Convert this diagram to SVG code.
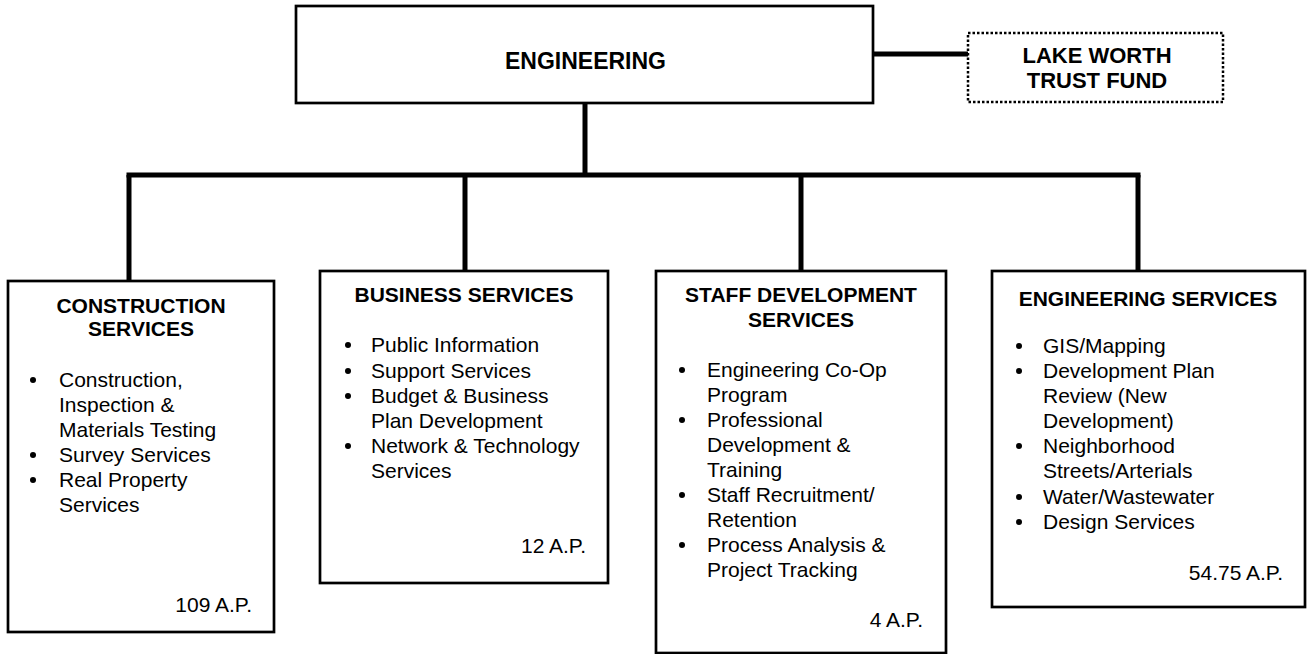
<svg xmlns="http://www.w3.org/2000/svg" width="1307" height="654" viewBox="0 0 1307 654">
<style>
.box{fill:#fff;stroke:#000;stroke-width:2.7}
.dot{fill:#fff;stroke:#000;stroke-width:2.5;stroke-dasharray:2.5 2}
.ln{stroke:#000;stroke-width:5;fill:none}
.h{font-family:"Liberation Sans",Arial,sans-serif;font-weight:bold;font-size:21px;text-anchor:middle;fill:#000}
.top{font-size:23px}
.lw{font-size:22px}
.t{font-family:"Liberation Sans",Arial,sans-serif;font-size:21px;fill:#000}
.ap{text-anchor:end}
.b{fill:#000}
</style>
<rect width="1307" height="654" fill="#fff"/>
<g id="connectors">
<line class="ln" x1="873" y1="54" x2="968" y2="54"/>
<line class="ln" x1="585" y1="103" x2="585" y2="175"/>
<line class="ln" x1="126.5" y1="175" x2="1140.5" y2="175"/>
<line class="ln" x1="129" y1="175" x2="129" y2="281"/>
<line class="ln" x1="465" y1="175" x2="465" y2="271"/>
<line class="ln" x1="801" y1="175" x2="801" y2="271"/>
<line class="ln" x1="1138" y1="175" x2="1138" y2="271"/>
</g>
<g id="engineering">
<rect class="box" x="296" y="6" width="577" height="97"/>
<text class="h top" x="585.5" y="69">ENGINEERING</text>
</g>
<g id="lake-worth">
<rect class="dot" x="968" y="33" width="255" height="69"/>
<text class="h lw" x="1097" y="63">LAKE WORTH</text>
<text class="h lw" x="1097" y="88">TRUST FUND</text>
</g>
<g id="construction">
<rect class="box" x="8" y="281" width="266" height="351"/>
<text class="h" x="141" y="313">CONSTRUCTION</text>
<text class="h" x="141" y="336">SERVICES</text>
<circle class="b" cx="33" cy="380" r="3"/>
<circle class="b" cx="33" cy="455" r="3"/>
<circle class="b" cx="33" cy="480" r="3"/>
<text class="t" x="59" y="387">Construction,</text>
<text class="t" x="59" y="412">Inspection &amp;</text>
<text class="t" x="59" y="437">Materials Testing</text>
<text class="t" x="59" y="462">Survey Services</text>
<text class="t" x="59" y="487">Real Property</text>
<text class="t" x="59" y="512">Services</text>
<text class="t ap" x="252" y="612">109 A.P.</text>
</g>
<g id="business">
<rect class="box" x="320" y="271" width="288" height="312"/>
<text class="h" x="464" y="302">BUSINESS SERVICES</text>
<circle class="b" cx="348" cy="345" r="3"/>
<circle class="b" cx="348" cy="371" r="3"/>
<circle class="b" cx="348" cy="396" r="3"/>
<circle class="b" cx="348" cy="446" r="3"/>
<text class="t" x="371" y="352">Public Information</text>
<text class="t" x="371" y="378">Support Services</text>
<text class="t" x="371" y="403">Budget &amp; Business</text>
<text class="t" x="371" y="428">Plan Development</text>
<text class="t" x="371" y="453">Network &amp; Technology</text>
<text class="t" x="371" y="478">Services</text>
<text class="t ap" x="586" y="553">12 A.P.</text>
</g>
<g id="staff">
<rect class="box" x="656" y="271" width="290" height="382"/>
<text class="h" x="801" y="302">STAFF DEVELOPMENT</text>
<text class="h" x="801" y="327">SERVICES</text>
<circle class="b" cx="682" cy="370" r="3"/>
<circle class="b" cx="682" cy="420" r="3"/>
<circle class="b" cx="682" cy="495" r="3"/>
<circle class="b" cx="682" cy="545" r="3"/>
<text class="t" x="707" y="377">Engineering Co-Op</text>
<text class="t" x="707" y="402">Program</text>
<text class="t" x="707" y="427">Professional</text>
<text class="t" x="707" y="452">Development &amp;</text>
<text class="t" x="707" y="477">Training</text>
<text class="t" x="707" y="502">Staff Recruitment/</text>
<text class="t" x="707" y="527">Retention</text>
<text class="t" x="707" y="552">Process Analysis &amp;</text>
<text class="t" x="707" y="577">Project Tracking</text>
<text class="t ap" x="923" y="627">4 A.P.</text>
</g>
<g id="engineering-services">
<rect class="box" x="992" y="271" width="313" height="336"/>
<text class="h" x="1148" y="306">ENGINEERING SERVICES</text>
<circle class="b" cx="1019" cy="346" r="3"/>
<circle class="b" cx="1019" cy="371" r="3"/>
<circle class="b" cx="1019" cy="446" r="3"/>
<circle class="b" cx="1019" cy="497" r="3"/>
<circle class="b" cx="1019" cy="522" r="3"/>
<text class="t" x="1043" y="353">GIS/Mapping</text>
<text class="t" x="1043" y="378">Development Plan</text>
<text class="t" x="1043" y="403">Review (New</text>
<text class="t" x="1043" y="428">Development)</text>
<text class="t" x="1043" y="453">Neighborhood</text>
<text class="t" x="1043" y="478">Streets/Arterials</text>
<text class="t" x="1043" y="504">Water/Wastewater</text>
<text class="t" x="1043" y="529">Design Services</text>
<text class="t ap" x="1283" y="580">54.75 A.P.</text>
</g>
</svg>
